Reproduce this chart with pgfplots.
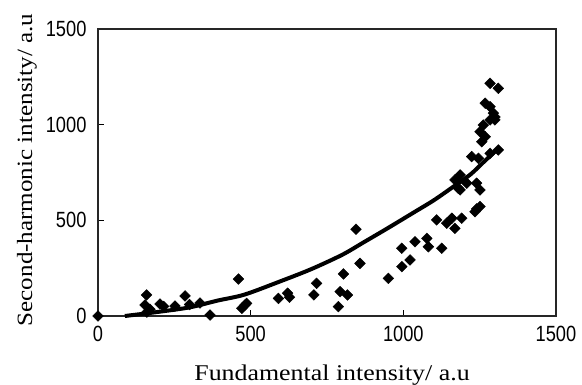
\documentclass[border=0pt]{standalone}
\usepackage{fontspec}
\setmainfont{Liberation Serif}
\newfontfamily\tickfont[FakeStretch=0.83]{Liberation Sans}
\newfontfamily\labfont[FakeStretch=1.15]{Liberation Serif}
\usepackage{pgfplots}
\pgfplotsset{compat=1.18}
\begin{document}
\begin{tikzpicture}
\begin{axis}[
  at={(0,0)}, anchor=south west,
  scale only axis, width=458pt, height=287pt,
  xmin=0, xmax=1500, ymin=0, ymax=1500,
  xtick={0,500,1000,1500}, ytick={0,500,1000,1500},
  tick align=inside, xtick pos=bottom, ytick pos=left,
  major tick length=6pt,
  axis line style={line width=1.6pt, color=black!85},
  tick style={line width=1pt, black},
  /pgf/number format/assume math mode=true,
  /pgf/number format/1000 sep={},
  ticklabel style={font=\tickfont\fontsize{22}{24}\selectfont},
  xticklabel style={yshift=-6.5pt},
  yticklabel style={xshift=-8pt},
  xlabel={\labfont Fundamental intensity/ a.u},
  ylabel={\labfont Second-harmonic intensity/ a.u},
  xlabel style={font=\fontsize{22.5}{25}\selectfont, at={(axis description cs:0.511,-0.158)}, anchor=north},
  ylabel style={font=\fontsize{21.8}{24}\selectfont, at={(axis description cs:-0.126,0.509)}, anchor=south},
  clip=false,
]
\addplot[black, line width=4pt, smooth] coordinates {
(88,0) (190,20) (300,45) (390,80) (480,112) (600,183) (700,246) (800,320)
(870,385) (950,460) (1033,540) (1100,605) (1164,676) (1220,740) (1260,800) (1310,875)
};
\addplot[only marks, mark=square*, mark size=3.8pt, mark options={rotate=45, fill=black, draw=black}, color=black] coordinates {
(0,0) (159,110) (154,57) (160,20) (170,35) (203,63) (215,50) (252,52) (285,105)
(300,60) (334,68) (367,5) (460,193) (481,57) (487,66) (471,40) (591,92) (621,119)
(627,98) (716,171) (707,110) (804,220) (793,127) (817,110) (787,49) (845,453)
(858,275) (951,197) (995,258) (995,354) (1022,293) (1038,388) (1077,406) (1082,362)
(1126,354) (1109,502) (1142,485) (1169,458) (1159,511) (1191,511) (1235,545)
(1251,572) (1240,560) (1186,737) (1208,694) (1186,659) (1240,694) (1169,711) (1180,668)
(1251,659) (1224,833) (1246,824) (1284,850) (1311,868) (1257,911) (1268,937)
(1251,963) (1262,998) (1284,1025) (1300,1025) (1295,1060) (1284,1094) (1268,1112)
(1284,1216) (1311,1190) (1300,1040)
};
\end{axis}
\pgfresetboundingbox
\path[use as bounding box] (-98pt,-69pt) rectangle (484pt,316pt);
\end{tikzpicture}
\end{document}
